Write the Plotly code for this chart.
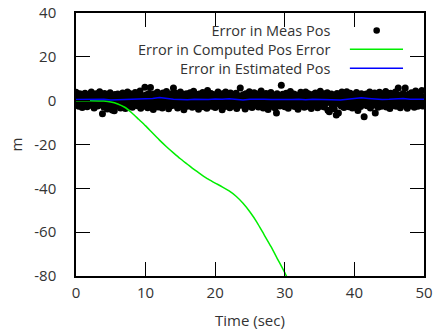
import numpy as np
import plotly.graph_objects as go

# ---- data ----
meas_t0, meas_dt = 0.0, 0.1
meas_err = [
    3.8, -1.2, 2.4, 0.5, -2.6, 3.1, 1.0, -0.8, 2.9, -3.1, 0.2, 1.7, -1.9, 3.4, -0.4, 2.2, -2.8, 0.9, 1.5, -1.1,
    2.6, -0.3, 3.9, -2.2, 1.3, 0.1, -3.4, 2.0, -1.5, 3.2, 0.7, -2.4, 1.9, -0.9, 4.1, -1.8, 0.4, 2.7, -6.0, 1.2,
    -2.9, 3.3, 0.6, -1.4, 2.5, -3.8, 1.1, -0.6, 2.1, 3.6, -2.0, 0.8, -4.3, 1.6, -1.0, -4.6, 2.8, 0.3, -2.5, 1.4,
    3.0, -1.7, 0.0, 2.3, -3.3, 1.8, -0.2, 3.5, -2.1, 0.9, 1.4, -3.6, 2.6, -0.7, 4.0, 1.0, -2.7, 0.5, 3.1, -1.3,
    1.9, -3.0, 2.4, 0.2, -1.6, 3.7, -0.5, 1.2, -2.3, 2.9, 0.6, -1.2, 4.4, -3.5, 1.5, -0.1, 2.2, -2.6, 0.8, 6.1,
    -1.4, 2.7, 0.4, -3.2, 1.6, 3.3, -0.9, 6.0, 2.0, -2.2, 1.1, -4.0, 3.0, 0.3, -1.8, 2.5, -0.6, 3.8, -2.9, 1.3,
    0.0, 2.8, -1.5, 1.7, -3.4, 3.5, 0.7, -0.4, 2.3, -2.0, 4.2, -1.1, 1.0, -3.7, 2.6, 0.5, -2.4, 3.1, -0.8, 1.8,
    5.8, -2.1, 0.9, 3.4, -1.0, 2.1, -3.3, 0.2, 1.6, -2.7, 3.9, -0.3, 2.4, -1.6, 0.8, -4.1, 2.9, 1.2, -0.7, 3.2,
    -2.5, 1.4, 0.1, -1.9, 3.6, -0.5, 2.2, -3.0, 1.0, 4.3, -1.3, 0.6, -2.2, 2.7, -0.2, 1.9, -3.9, 3.0, 0.4, -1.7,
    2.5, -0.6, 3.7, -2.8, 1.3, 0.0, -1.4, 2.0, -3.5, 4.6, 0.9, -2.0, 1.5, -0.9, 3.3, -2.6, 0.7, 2.8, -1.2, 1.1,
    -3.1, 2.6, 0.3, -0.8, 3.9, -2.3, 1.7, -1.5, 2.4, 0.5, -4.2, 3.1, -0.1, 1.2, -2.7, 4.0, 0.8, -1.9, 2.2, -0.4,
    1.6, -3.2, 3.5, 0.2, -1.1, 2.9, -2.4, 0.6, 1.9, -0.7, 3.4, -3.6, 1.0, 2.3, -1.8, 0.4, 5.8, -2.1, 1.4, -0.3,
    2.7, -1.6, 0.9, -3.8, 3.2, 1.5, -0.5, 2.0, -2.5, 4.1, -1.0, 0.3, 2.6, -3.1, 1.1, -0.2, 3.6, -2.0, 0.7, 1.8,
    -1.3, 3.0, -2.9, 0.5, 2.1, -0.9, 4.4, -1.7, 1.3, -3.4, 2.8, 0.0, -2.2, 3.3, -0.6, 1.6, -4.0, 2.4, 0.8, -1.4,
    3.7, -2.6, 1.2, 0.4, -1.9, 2.5, -3.3, 0.9, -5.6, 3.1, 1.4, -0.8, 2.2, -2.4, 0.1, 7.0, -1.5, 2.9, -0.3, 1.7,
    -2.8, 0.6, 3.4, -1.1, 2.0, -3.5, 1.0, -0.4, 4.2, -2.0, 1.8, 0.2, -1.6, 3.0, -2.7, 0.7, 2.6, -0.9, 1.3, -3.9,
    2.3, 0.0, -1.2, 3.8, -2.3, 1.5, -0.6, 2.7, -3.0, 0.8, 4.0, -1.8, 1.1, -2.5, 3.2, 0.3, -0.7, 2.1, -3.6, 1.6,
    -0.2, 2.9, -2.1, 0.9, 3.5, -1.4, 1.9, -3.2, 0.4, 2.4, -0.8, 4.3, -2.6, 1.2, 0.1, -1.7, 3.1, -2.9, 0.6, 2.0,
    -1.0, 3.6, -4.4, 1.4, -5.0, 2.5, -0.5, 3.0, -2.2, 0.8, 1.7, -3.7, 2.2, 0.2, -6.5, 3.3, -1.3, -5.6, 2.6, -0.1,
    1.1, -2.4, 3.9, -0.7, 2.0, -3.1, 0.5, 1.8, -1.9, 4.1, -0.4, 2.6, -2.8, 1.0, 3.4, -1.5, 0.3, -3.4, 2.3, 0.9,
    -1.1, 2.8, -2.0, 3.7, 0.6, -4.5, 1.5, -0.3, 2.1, -2.7, 3.2, 0.0, -1.6, 2.4, -7.3, 1.3, -0.9, 3.0, -2.3, 0.7,
    2.5, -1.2, 4.0, -3.3, 1.0, -0.5, 2.9, -2.1, 0.4, 3.5, -5.6, 1.6, -0.8, 2.2, -3.0, 0.9, 3.8, -1.4, 1.9, -2.5,
    0.2, 3.1, -1.7, 2.0, -0.2, 4.2, -2.9, 1.2, -1.0, 2.7, 0.5, -3.6, 3.4, -0.6, 1.7, -2.2, 0.8, 2.4, -1.3, 3.9,
    -2.6, 1.1, 0.3, 5.8, -1.8, 2.6, -3.2, 0.7, 1.9, -0.4, 3.3, -2.0, 1.4, 5.8, -1.1, 2.1, -3.5, 0.6, 2.9, -0.9,
    1.5, -2.3, 3.6, 0.1, -1.5, 2.3, -3.0, 1.0, 4.4, -0.7, 1.8, -2.6, 0.4, 3.0, -1.9, 2.7, -0.3, 4.6, -2.4, 1.2,
    -0.8,
]
meas_t = [round(meas_t0 + i * meas_dt, 2) for i in range(len(meas_err))]

comp_t = [0, 2, 4, 5, 6, 7, 8, 9, 10, 11, 12, 13, 14, 15, 16, 17, 18, 19, 20,
          21, 22, 23, 24, 25, 26, 27, 28, 29, 30, 30.3]
comp_err = [0, 0, -0.2, -0.6, -1.5, -3, -5.5, -8.5, -11.5, -14.8, -18, -21, -23.8, -26.5,
            -29, -31.5, -33.7, -35.8, -37.6, -39.3, -41.2, -43.6, -46.8, -50.8, -55.5, -61,
            -66.5, -72.5, -78.5, -80.5]

est_t = list(range(0, 51))
est_err = [0.5, 0.6, 0.4, 0.5, 0.6, 0.3, 0.4, 0.6, 0.5, 0.7, 0.8, 1.0, 1.4, 0.9, 0.6, 0.5,
           0.4, 0.7, 0.6, 0.5, 0.8, 0.6, 0.9, 0.5, 0.3, 0.6, 0.8, 0.7, 0.5, 0.4, 0.6, 0.5,
           0.7, 0.4, 0.6, 0.5, 0.7, 0.5, 0.3, 0.6, 0.9, 1.3, 1.0, 0.7, 0.5, 0.6, 0.8, 1.0,
           0.7, 0.5, 0.6]

x_ticks = [0, 10, 20, 30, 40, 50]
y_ticks = [40, 20, 0, -20, -40, -60, -80]
legend_labels = ["Error in Meas Pos", "Error in Computed Pos Error", "Error in Estimated Pos"]
x_title = "Time (sec)"
y_title = "m"

FONT = "Open Sans"
FS = 15
LFS = 14.5
TXT = "#333333"
PLOT_H = 336 - 13 - 60

fig = go.Figure()
fig.add_trace(go.Scatter(x=meas_t, y=meas_err, mode="markers",
                         marker=dict(color="black", size=7, line=dict(width=0)),
                         showlegend=False))
fig.add_trace(go.Scatter(x=comp_t, y=comp_err, mode="lines", line=dict(color="#00ee00", width=1.5,
                         shape="spline", smoothing=0.6), showlegend=False))
fig.add_trace(go.Scatter(x=est_t, y=est_err, mode="lines", line=dict(color="#0000ff", width=1.5),
                         showlegend=False))

axis_common = dict(showline=True, linecolor="black", linewidth=1.5, mirror="ticks",
                   ticks="inside", ticklen=14, tickwidth=1, tickcolor="black",
                   showgrid=False, zeroline=False, automargin=False,
                   tickfont=dict(family=FONT, size=FS, color=TXT))
fig.update_xaxes(range=[0, 50], tickvals=x_ticks, ticktext=[str(v) for v in x_ticks],
                 ticklabelstandoff=2, **axis_common)
fig.update_yaxes(range=[-80, 40], tickvals=y_ticks, ticktext=[str(v) for v in y_ticks],
                 ticklabelstandoff=15, **axis_common)

# custom gnuplot-style legend (text right aligned, sample at right)
mid_y = 0.862
step = LFS * 1.3 / PLOT_H
rows_y = [mid_y + step, mid_y, mid_y - step]
fig.add_annotation(xref="paper", yref="paper", x=0.7356, y=mid_y, text="<br>".join(legend_labels),
                   showarrow=False, xanchor="right", yanchor="middle", align="right",
                   font=dict(family=FONT, size=LFS, color=TXT))
fig.add_shape(type="circle", xref="paper", yref="paper", xsizemode="pixel", ysizemode="pixel",
              xanchor=0.864, yanchor=rows_y[0], x0=-3.3, x1=3.3, y0=-3.3, y1=3.3,
              fillcolor="black", line=dict(width=0))
fig.add_shape(type="line", xref="paper", yref="paper", x0=0.787, x1=0.9397, y0=rows_y[1], y1=rows_y[1],
              line=dict(color="#00ee00", width=1.5))
fig.add_shape(type="line", xref="paper", yref="paper", x0=0.787, x1=0.9397, y0=rows_y[2], y1=rows_y[2],
              line=dict(color="#0000ff", width=1.5))

fig.add_annotation(xref="paper", yref="paper", x=0.5, y=-0.168, text=x_title, showarrow=False,
                   xanchor="center", yanchor="middle", font=dict(family=FONT, size=FS, color=TXT))
fig.add_annotation(xref="paper", yref="paper", x=-0.175, y=0.5, text=y_title, showarrow=False,
                   textangle=-90, xanchor="center", yanchor="middle",
                   font=dict(family=FONT, size=FS, color=TXT))

fig.update_layout(width=433, height=336, margin=dict(l=76, r=9, t=13, b=60),
                  plot_bgcolor="white", paper_bgcolor="white")
fig.write_html("out.html")
